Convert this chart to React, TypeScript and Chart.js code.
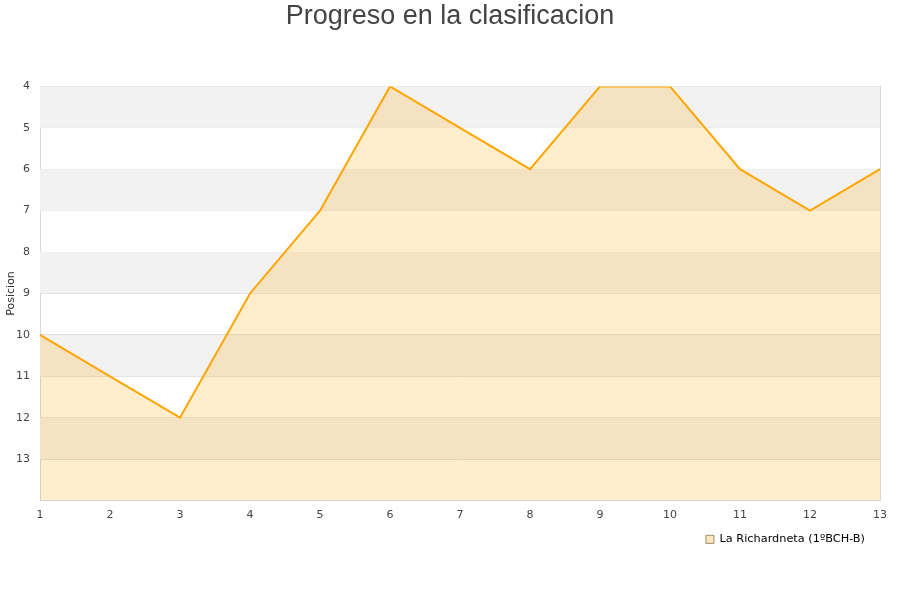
import React, { useEffect, useRef } from "react";
import { Chart, registerables } from "chart.js";

Chart.register(...registerables);

const jornadas = ["1", "2", "3", "4", "5", "6", "7", "8", "9", "10", "11", "12", "13"];
const posiciones = [10, 11, 12, 9, 7, 4, 5, 6, 4, 4, 6, 7, 6];
const seriesLabel = "La Richardneta (1ºBCH-B)";
const titleText = "Progreso en la clasificacion";
const yTitle = "Posicion";
const yMin = 4;
const yMax = 14;

const bandsPlugin = {
  id: "bands",
  beforeDatasetsDraw(chart: any) {
    const { ctx, chartArea, scales } = chart;
    const y = scales.y;
    ctx.save();
    for (let v = yMin; v < yMax; v++) {
      if ((v - yMin) % 2 === 0) {
        const y1 = y.getPixelForValue(v);
        const y2 = y.getPixelForValue(v + 1);
        ctx.fillStyle = "#f2f2f2";
        ctx.fillRect(chartArea.left, Math.min(y1, y2), chartArea.right - chartArea.left, Math.abs(y2 - y1));
      }
    }
    ctx.restore();
  },
};

const legendShiftPlugin = {
  id: "legendShift",
  afterLayout(chart: any) {
    if (chart.legend) {
      chart.legend.left -= 11;
      chart.legend.right -= 11;
    }
  },
};

export default function App() {
  const ref = useRef<HTMLCanvasElement | null>(null);
  useEffect(() => {
    document.body.style.margin = "0";
    const chart = new Chart(ref.current as HTMLCanvasElement, {
      type: "line",
      data: {
        labels: jornadas,
        datasets: [
          {
            label: seriesLabel,
            data: posiciones,
            borderColor: "#ffa500",
            backgroundColor: "rgba(255,165,0,0.2)",
            borderWidth: 2,
            pointRadius: 0,
            tension: 0,
            fill: { value: yMax },
          },
        ],
      },
      options: {
        animation: false,
        responsive: false,
        layout: { padding: { left: 0, right: 0, top: 0, bottom: 45 } },
        plugins: {
          title: {
            display: true,
            text: titleText,
            color: "#444444",
            font: { family: "'Liberation Sans', Arial, sans-serif", size: 27, weight: "normal" },
            padding: { top: 0, bottom: 54 },
          },
          legend: {
            position: "bottom",
            align: "end",
            fullSize: false,
            labels: {
              boxWidth: 8,
              boxHeight: 8,
              color: "#000000",
              font: { family: "'DejaVu Sans', sans-serif", size: 11.3 },
              padding: 4,
              generateLabels(chart: any) {
                const items = Chart.defaults.plugins.legend.labels.generateLabels(chart);
                return items.map((it: any) => ({
                  ...it,
                  fillStyle: "#fde8c0",
                  strokeStyle: "#a08a68",
                  lineWidth: 1,
                }));
              },
            },
          },
          tooltip: { enabled: false },
        },
        scales: {
          x: {
            type: "category",
            offset: false,
            grid: { display: false, drawTicks: false },
            border: { display: true, color: "#d8d8d8" },
            ticks: {
              color: "#444444",
              font: { family: "'DejaVu Sans', sans-serif", size: 11 },
              maxRotation: 0,
              padding: 8,
            },
          },
          y: {
            reverse: true,
            min: yMin,
            max: yMax,
            afterFit(scale: any) {
              scale.width = 40;
            },
            afterBuildTicks(scale: any) {
              scale.ticks = scale.ticks.filter((t: any) => t.value < yMax);
            },
            grid: { color: "#dddddd", drawTicks: false },
            border: { display: true, color: "#d8d8d8" },
            title: {
              display: true,
              text: yTitle,
              color: "#333333",
              font: { family: "'DejaVu Sans', sans-serif", size: 11 },
              padding: { top: 5, bottom: 0 },
            },
            ticks: {
              stepSize: 1,
              color: "#444444",
              font: { family: "'DejaVu Sans', sans-serif", size: 11 },
              padding: 10,
            },
          },
          yr: {
            position: "right",
            min: yMin,
            max: yMax,
            afterFit(scale: any) {
              scale.width = 20;
            },
            grid: { display: false, drawTicks: false },
            border: { display: true, color: "#d8d8d8" },
            ticks: { display: false },
          },
        },
      },
      plugins: [bandsPlugin, legendShiftPlugin],
    } as any);
    return () => chart.destroy();
  }, []);
  return (
    <div style={{ position: "absolute", left: 0, top: 0, width: 900, height: 600, background: "#fff" }}>
      <canvas ref={ref} width={900} height={600} />
    </div>
  );
}
